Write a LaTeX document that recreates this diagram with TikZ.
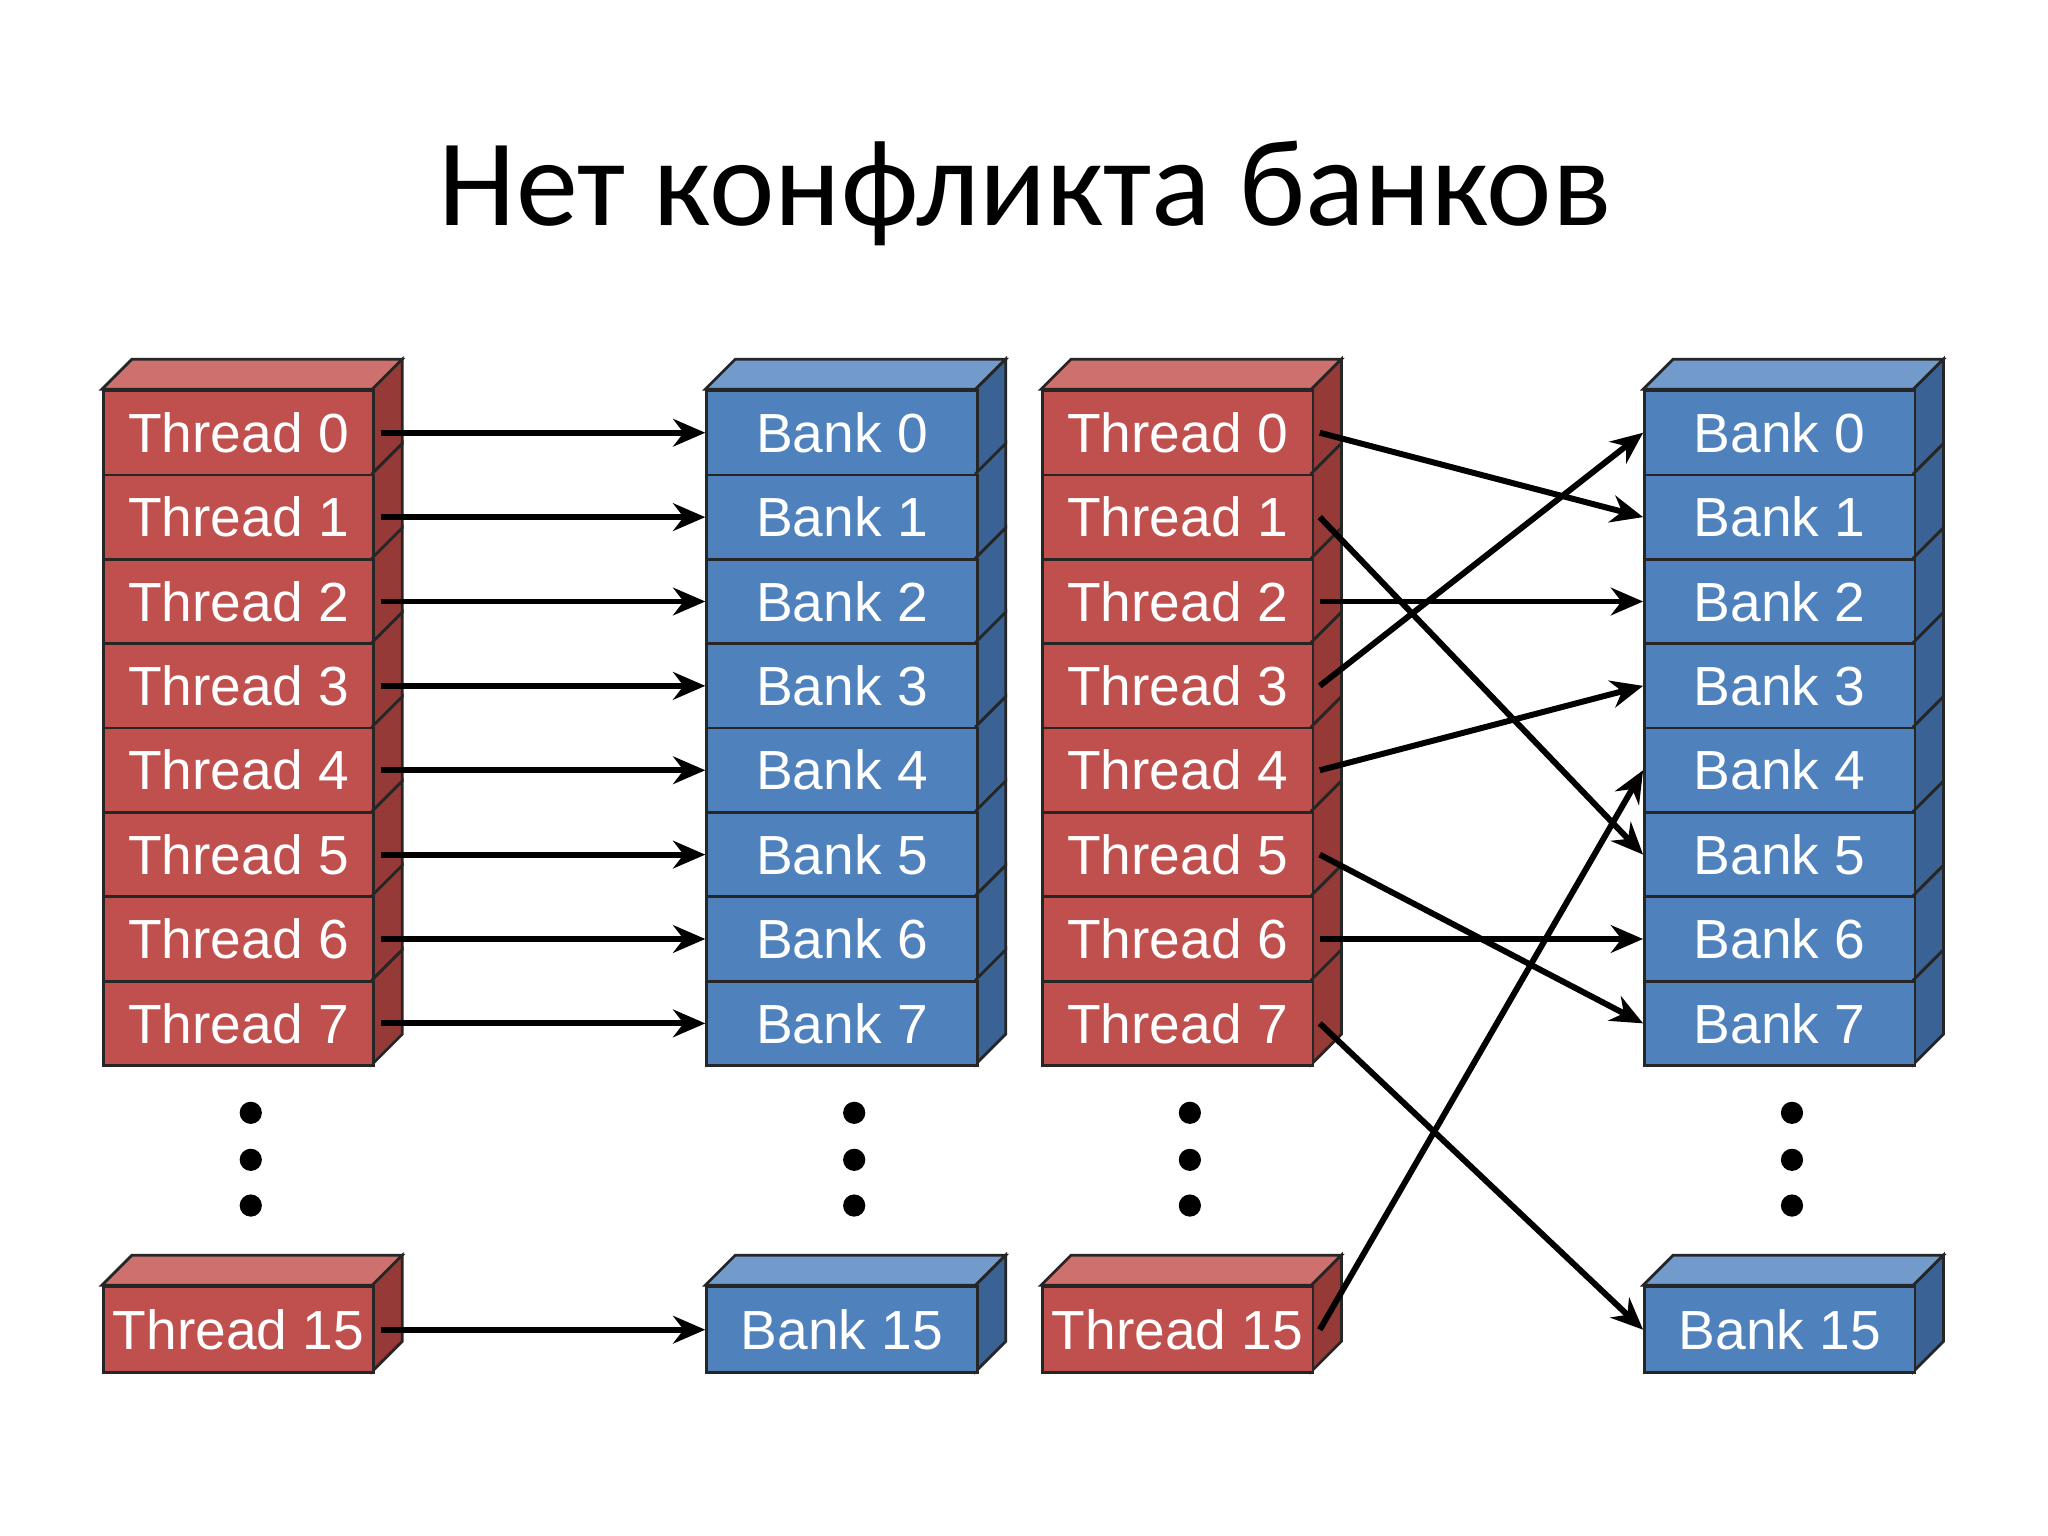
\documentclass[tikz,border=0pt]{standalone}
\usepackage{fontspec}
\setmainfont{Liberation Sans}
\newfontfamily\titlefont{Carlito}
\usetikzlibrary{arrows.meta}
\definecolor{rf}{RGB}{192,80,77}\definecolor{rt}{RGB}{206,112,110}\definecolor{rs}{RGB}{150,58,56}
\definecolor{bf}{RGB}{79,129,189}\definecolor{bt}{RGB}{114,155,204}\definecolor{bs}{RGB}{58,98,148}
\tikzset{
 face/.style={draw=black!85,line width=0.6pt},
 front/.style={face,minimum width=2.07cm,minimum height=0.645cm,anchor=north west,inner sep=0pt,text=white,font=\fontsize{12}{12}\selectfont},
 tf/.style={front,fill=rf}, bfr/.style={front,fill=bf},
 arr/.style={-{Stealth[length=7pt,width=6pt]},line width=1.3pt},
 dot/.style={circle,fill=black,inner sep=0pt,minimum size=0.17cm}
}
\newcommand\blockcol[5]{% x, prefix, frontstyle, topcol, sidecol ; label word in #2
}
\begin{document}
\begin{tikzpicture}[x=0.01cm,y=-0.01cm]
\useasboundingbox[fill=white] (0,0) rectangle (1568,1176);
\node[font=\titlefont\fontsize{27}{27}\selectfont] (title) at (785,148) {Нет конфликта банков};
% columns
\foreach \X/\P/\W/\S/\T/\D in {78/a/Thread/tf/rt/rs,540/b/Bank/bfr/bt/bs,797/c/Thread/tf/rt/rs,1258/d/Bank/bfr/bt/bs}{
  \fill[\T,draw=black!85,line width=0.6pt] (\X,298) -- ++(23,-23) -- ++(207,0) -- ++(-23,23) -- cycle;
  \foreach \i in {0,...,7}{
    \fill[\D,draw=black!85,line width=0.6pt] (\X+207,298+64.6*\i) -- ++(23,-23) -- ++(0,64.6) -- ++(-23,23) -- cycle;
    \node[\S] (\P\i) at (\X,298+64.6*\i) {\W\ \i};
  }
  \fill[\T,draw=black!85,line width=0.6pt] (\X,984) -- ++(23,-23) -- ++(207,0) -- ++(-23,23) -- cycle;
  \fill[\D,draw=black!85,line width=0.6pt] (\X+207,984) -- ++(23,-23) -- ++(0,66) -- ++(-23,23) -- cycle;
  \node[\S,minimum height=0.66cm] (\P15) at (\X,984) {\W\ 15};
  \foreach \k in {852,888,923} \node[dot] at (\X+114,\k) {};
}
% arrows left pair
\foreach \i in {0,...,7,15} \draw[arr] ([xshift=1.2pt]a\i.east) -- (b\i.west);
% arrows right pair
\foreach \i/\j in {0/1,1/5,2/2,3/0,4/3,5/7,6/6,7/15,15/4}
  \draw[arr] ([xshift=1.2pt]c\i.east) -- (d\j.west);
\end{tikzpicture}
\end{document}
